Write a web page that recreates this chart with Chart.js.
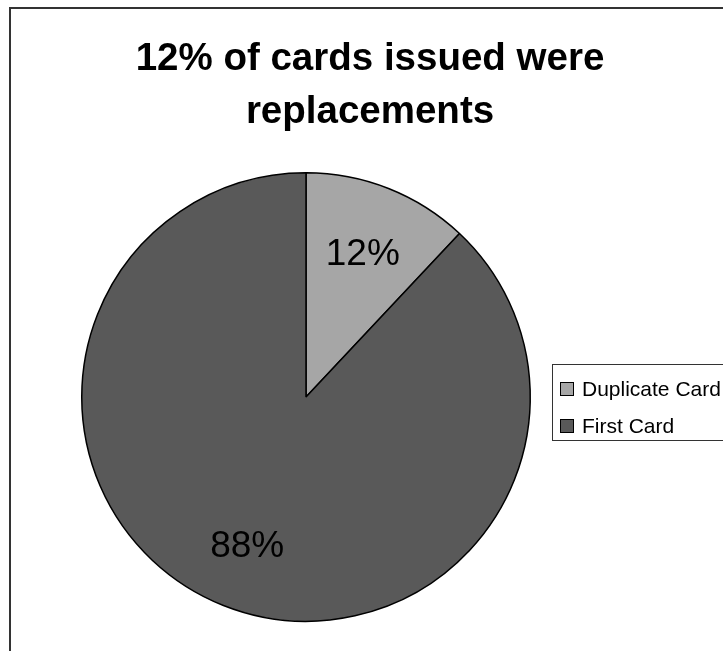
<!DOCTYPE html>
<html>
<head>
<meta charset="utf-8">
<script src="https://cdn.jsdelivr.net/npm/chart.js@4/dist/chart.umd.min.js"></script>
<style>
  html, body { margin: 0; padding: 0; background: #fff; overflow: hidden; }
  #wrap { position: relative; width: 723px; height: 651px; overflow: hidden; font-family: "Liberation Sans", Arial, sans-serif; }
  #frame { position: absolute; left: 9px; top: 7px; width: 730px; height: 660px; border: 2px solid #333; box-sizing: border-box; }
  #title { position: absolute; left: 9px; width: 722px; top: 30px; text-align: center; font-weight: bold; font-size: 38.5px; line-height: 53px; color: #000; }
  #legend { position: absolute; left: 552px; top: 364px; width: 220px; height: 77px; border: 1px solid #333; box-sizing: border-box; }
  .item { position: absolute; left: 7px; font-size: 21px; color: #000; white-space: nowrap; line-height: 24px; }
  .sw { position: absolute; left: 0; top: 5px; width: 12px; height: 12px; border: 1px solid #000; }
  .lbl { position: absolute; left: 22px; top: 0; }
  canvas { position: absolute; left: 0; top: 0; }
</style>
</head>
<body>
<div id="wrap">
  <div id="frame"></div>
  <canvas id="c" width="723" height="651"></canvas>
  <div id="title"></div>
  <div id="legend"></div>
</div>
<script>
const categories = ["Duplicate Card", "First Card"];
const values = [12, 88];
const colors = ["#A6A6A6", "#595959"];
const titleLines = ["12% of cards issued were", "replacements"];

document.getElementById('title').innerHTML = titleLines.join('<br>');

const legend = document.getElementById('legend');
categories.forEach((cat, i) => {
  const it = document.createElement('div');
  it.className = 'item';
  it.style.top = (12 + i * 37) + 'px';
  const sw = document.createElement('div');
  sw.className = 'sw';
  sw.style.background = colors[i];
  const lb = document.createElement('span');
  lb.className = 'lbl';
  lb.textContent = cat;
  it.appendChild(sw);
  it.appendChild(lb);
  legend.appendChild(it);
});

const pctLabels = {
  id: 'pctLabels',
  afterDatasetsDraw(chart) {
    const ctx = chart.ctx;
    const meta = chart.getDatasetMeta(0);
    const total = values.reduce((a, b) => a + b, 0);
    ctx.save();
    ctx.fillStyle = '#000';
    ctx.font = '37px "Liberation Sans", Arial, sans-serif';
    ctx.textAlign = 'center';
    ctx.textBaseline = 'middle';
    meta.data.forEach((arc, i) => {
      const p = arc.getProps(['x', 'y', 'startAngle', 'endAngle', 'outerRadius'], true);
      const mid = (p.startAngle + p.endAngle) / 2;
      const r = p.outerRadius * 0.7;
      const txt = Math.round(values[i] / total * 100) + '%';
      ctx.fillText(txt, p.x + Math.cos(mid) * r - 1, p.y + Math.sin(mid) * r + 4);
    });
    ctx.restore();
  }
};

new Chart(document.getElementById('c'), {
  type: 'pie',
  data: {
    labels: categories,
    datasets: [{
      data: values,
      backgroundColor: colors,
      borderColor: '#000',
      borderWidth: 1.5
    }]
  },
  options: {
    responsive: false,
    animation: false,
    layout: { padding: { left: 81, right: 192, top: 172, bottom: 29 } },
    plugins: {
      legend: { display: false },
      title: { display: false },
      tooltip: { enabled: false }
    }
  },
  plugins: [pctLabels]
});
</script>
</body>
</html>
